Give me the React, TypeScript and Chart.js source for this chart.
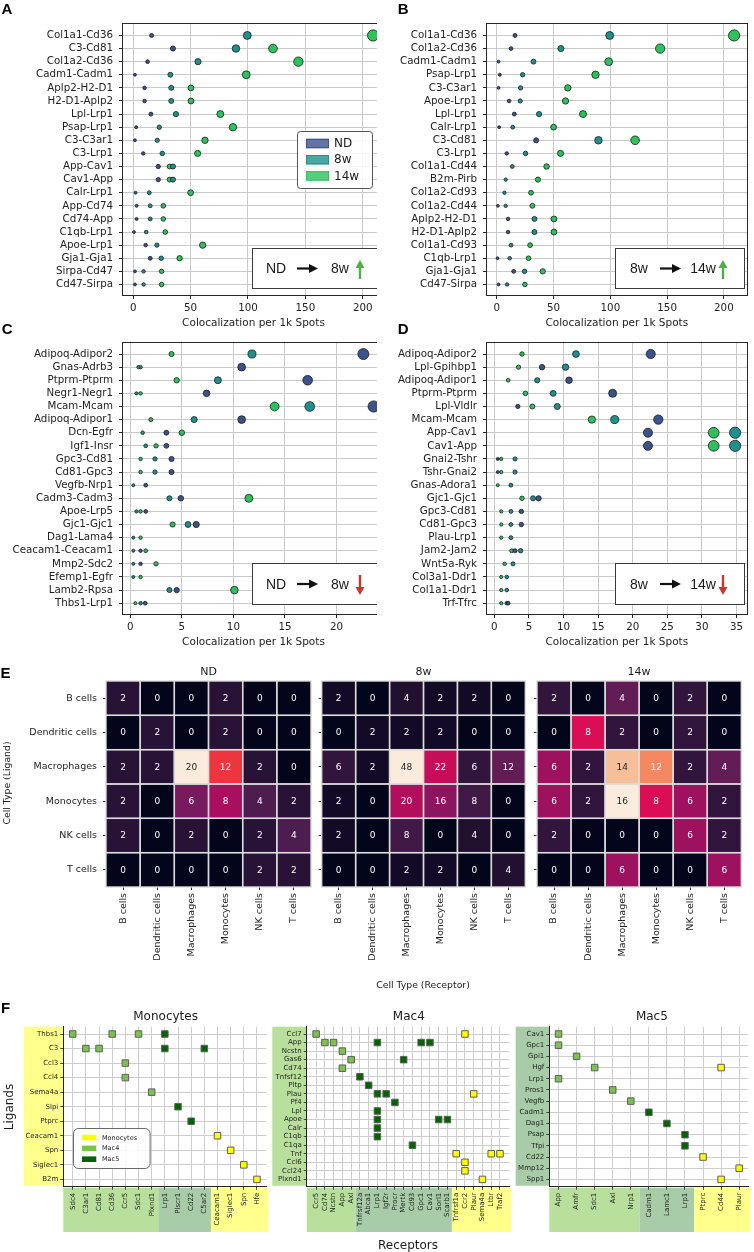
import React, { useEffect, useRef } from 'react';
import { Chart, registerables } from 'chart.js';

Chart.register(...registerables);

const FONT = "'DejaVu Sans', 'Liberation Sans', sans-serif";
const SANS = "'Liberation Sans', Arial, sans-serif";

const COL_ND = '#3b528b';
const COL_8W = '#1f918c';
const COL_14W = '#2cc25c';

// ---------------- Panel A (ND -> 8w up) ----------------
const aPairs = ['Col1a1-Cd36', 'C3-Cd81', 'Col1a2-Cd36', 'Cadm1-Cadm1', 'Aplp2-H2-D1', 'H2-D1-Aplp2', 'Lpl-Lrp1', 'Psap-Lrp1', 'C3-C3ar1', 'C3-Lrp1', 'App-Cav1', 'Cav1-App', 'Calr-Lrp1', 'App-Cd74', 'Cd74-App', 'C1qb-Lrp1', 'Apoe-Lrp1', 'Gja1-Gja1', 'Sirpa-Cd47', 'Cd47-Sirpa'];
const aND = [16, 34.6, 12.5, 1.5, 9.9, 9.9, 15.4, 2.6, 1.5, 8.7, 21.8, 21.8, 2.0, 2.9, 2.9, 0.6, 10.8, 14.8, 1.5, 1.5];
const a8w = [99.4, 89.5, 56.4, 32.3, 33.1, 33.1, 37.2, 22.7, 20.9, 25.3, 34.6, 34.6, 14.0, 14.8, 14.8, 11.3, 20.6, 24.4, 9.0, 9.0];
const a14w = [209, 121.8, 143.9, 98.5, 50.3, 50.3, 75.9, 86.9, 62.5, 56.1, 31.7, 31.7, 50, 26.2, 26.2, 27.9, 60.5, 40.4, 24.7, 24.7];

// ---------------- Panel B (8w -> 14w up) ----------------
const bPairs = ['Col1a1-Cd36', 'Col1a2-Cd36', 'Cadm1-Cadm1', 'Psap-Lrp1', 'C3-C3ar1', 'Apoe-Lrp1', 'Lpl-Lrp1', 'Calr-Lrp1', 'C3-Cd81', 'C3-Lrp1', 'Col1a1-Cd44', 'B2m-Pirb', 'Col1a2-Cd93', 'Col1a2-Cd44', 'Aplp2-H2-D1', 'H2-D1-Aplp2', 'Col1a1-Cd93', 'C1qb-Lrp1', 'Gja1-Gja1', 'Cd47-Sirpa'];
const bND = [16, 12.5, 1.5, 2.6, 1.5, 10.8, 15.4, 2.0, 34.6, 8.7, null, null, null, 0.9, 9.9, 9.9, null, 0.6, 14.8, 1.5];
const b8w = [99.4, 56.4, 32.3, 22.7, 20.9, 20.6, 37.2, 14.0, 89.5, 25.3, 13.6, 7.8, 6.7, 7.8, 33.1, 33.1, 12.5, 11.3, 24.4, 9.0];
const b14w = [209, 143.9, 98.5, 86.9, 62.5, 60.5, 75.9, 50, 121.8, 56.1, 43.8, 36.2, 30.1, 31.3, 50.3, 50.3, 29.3, 27.9, 40.4, 24.7];

// ---------------- Panel C (ND -> 8w down) ----------------
const cPairs = ['Adipoq-Adipor2', 'Gnas-Adrb3', 'Ptprm-Ptprm', 'Negr1-Negr1', 'Mcam-Mcam', 'Adipoq-Adipor1', 'Dcn-Egfr', 'Igf1-Insr', 'Gpc3-Cd81', 'Cd81-Gpc3', 'Vegfb-Nrp1', 'Cadm3-Cadm3', 'Apoe-Lrp5', 'Gjc1-Gjc1', 'Dag1-Lama4', 'Ceacam1-Ceacam1', 'Mmp2-Sdc2', 'Efemp1-Egfr', 'Lamb2-Rpsa', 'Thbs1-Lrp1'];
const cND = [22.6, 10.8, 17.2, 7.4, 23.6, 10.8, 3.5, 3.5, 4.0, 4.0, 1.5, 4.9, 1.5, 6.4, null, 1.0, 1.0, null, 4.5, 1.45];
const c8w = [11.8, 0.8, 8.5, 0.6, 17.4, 6.2, 1.2, 1.5, 2.4, 2.4, 0.3, 3.8, 0.6, 5.6, 0.3, 0.3, 0.3, 0.3, 3.8, 1.0];
const c14w = [4.0, 1.0, 4.5, 1.0, 14.0, 2.0, 5.0, 2.5, 1.0, 1.0, null, 11.5, 1.0, 4.1, 1.0, 1.5, 2.5, 1.0, 10.1, 0.5];

// ---------------- Panel D (8w -> 14w down) ----------------
const dPairs = ['Adipoq-Adipor2', 'Lpl-Gpihbp1', 'Adipoq-Adipor1', 'Ptprm-Ptprm', 'Lpl-Vldlr', 'Mcam-Mcam', 'App-Cav1', 'Cav1-App', 'Gnai2-Tshr', 'Tshr-Gnai2', 'Gnas-Adora1', 'Gjc1-Gjc1', 'Gpc3-Cd81', 'Cd81-Gpc3', 'Plau-Lrp1', 'Jam2-Jam2', 'Wnt5a-Ryk', 'Col3a1-Ddr1', 'Col1a1-Ddr1', 'Trf-Tfrc'];
const dND = [22.6, 6.9, 10.8, 17.1, 3.4, 23.7, 22.2, 22.2, 0.5, 0.5, null, 6.4, 3.9, 3.9, null, 3.0, null, null, null, 2.0];
const d8w = [11.8, 10.3, 6.2, 8.5, 9.1, 17.4, 34.8, 34.8, 3.0, 3.0, 2.4, 5.6, 2.4, 2.4, 2.4, 3.8, 2.7, 1.8, 1.8, 1.8];
const d14w = [4.0, 3.5, 2.0, 4.5, 5.5, 14.1, 31.7, 31.7, 1.0, 1.0, 0.5, 4.0, 1.0, 1.0, 1.0, 2.5, 1.5, 1.0, 1.0, 1.0];

// ---------------- Panel E (heatmaps) ----------------
const cellTypes = ['B cells', 'Dendritic cells', 'Macrophages', 'Monocytes', 'NK cells', 'T cells'];
const heatND = [[2, 0, 0, 2, 0, 0], [0, 2, 0, 2, 0, 0], [2, 2, 20, 12, 2, 0], [2, 0, 6, 8, 4, 2], [2, 0, 2, 0, 2, 4], [0, 0, 0, 0, 2, 2]];
const heat8w = [[2, 0, 4, 2, 2, 0], [0, 2, 2, 2, 0, 0], [6, 2, 48, 22, 6, 12], [2, 0, 20, 16, 8, 0], [2, 0, 8, 0, 4, 0], [0, 0, 2, 2, 0, 4]];
const heat14w = [[2, 0, 4, 0, 2, 0], [0, 8, 2, 0, 2, 0], [6, 2, 14, 12, 2, 4], [6, 2, 16, 8, 6, 2], [2, 0, 0, 0, 6, 2], [0, 0, 6, 0, 0, 6]];

// ---------------- Panel F (ligand-receptor matrices) ----------------
const monoLigands = ['Thbs1', 'C3', 'Ccl3', 'Ccl4', 'Sema4a', 'Slpi', 'Ptprc', 'Ceacam1', 'Spn', 'Siglec1', 'B2m'];
const monoReceptors = ['Sdc4', 'C3ar1', 'Cd81', 'Cd36', 'Ccr5', 'Sdc1', 'Plxnd1', 'Lrp1', 'Plscr1', 'Cd22', 'C5ar2', 'Ceacam1', 'Siglec1', 'Spn', 'Hfe'];
const monoReceptorTypes = ['Mac4', 'Mac4', 'Mac4', 'Mac4', 'Mac4', 'Mac4', 'Mac4', 'Mac5', 'Mac5', 'Mac5', 'Mac5', 'Monocytes', 'Monocytes', 'Monocytes', 'Monocytes'];
const monoPairs = [['Thbs1', 'Sdc4'], ['Thbs1', 'Cd36'], ['Thbs1', 'Sdc1'], ['Thbs1', 'Lrp1'], ['C3', 'C3ar1'], ['C3', 'Cd81'], ['C3', 'Lrp1'], ['C3', 'C5ar2'], ['Ccl3', 'Ccr5'], ['Ccl4', 'Ccr5'], ['Sema4a', 'Plxnd1'], ['Slpi', 'Plscr1'], ['Ptprc', 'Cd22'], ['Ceacam1', 'Ceacam1'], ['Spn', 'Siglec1'], ['Siglec1', 'Spn'], ['B2m', 'Hfe']];

const mac4Ligands = ['Ccl7', 'App', 'Ncstn', 'Gas6', 'Cd74', 'Tnfsf12', 'Pltp', 'Plau', 'Pf4', 'Lpl', 'Apoe', 'Calr', 'C1qb', 'C1qa', 'Tnf', 'Ccl6', 'Ccl24', 'Plxnd1'];
const mac4Receptors = ['Ccr5', 'Cd74', 'Ncstn', 'App', 'Axl', 'Tnfrsf12a', 'Abca1', 'Lrp1', 'Igf2r', 'Procr', 'Mertk', 'Cd93', 'Gpc1', 'Cav1', 'Sorl1', 'Scarb1', 'Tnfrsf1a', 'Ccr2', 'Plaur', 'Sema4a', 'Ltbr', 'Traf2'];
const mac4ReceptorTypes = ['Mac4', 'Mac4', 'Mac4', 'Mac4', 'Mac4', 'Mac5', 'Mac5', 'Mac5', 'Mac5', 'Mac5', 'Mac5', 'Mac5', 'Mac5', 'Mac5', 'Mac5', 'Mac5', 'Monocytes', 'Monocytes', 'Monocytes', 'Monocytes', 'Monocytes', 'Monocytes'];
const mac4Pairs = [['Ccl7', 'Ccr5'], ['Ccl7', 'Ccr2'], ['App', 'Cd74'], ['App', 'Ncstn'], ['App', 'Lrp1'], ['App', 'Gpc1'], ['App', 'Cav1'], ['Ncstn', 'App'], ['Gas6', 'Axl'], ['Gas6', 'Mertk'], ['Cd74', 'App'], ['Tnfsf12', 'Tnfrsf12a'], ['Pltp', 'Abca1'], ['Plau', 'Lrp1'], ['Plau', 'Igf2r'], ['Plau', 'Plaur'], ['Pf4', 'Procr'], ['Lpl', 'Lrp1'], ['Apoe', 'Lrp1'], ['Apoe', 'Sorl1'], ['Apoe', 'Scarb1'], ['Calr', 'Lrp1'], ['C1qb', 'Lrp1'], ['C1qa', 'Cd93'], ['Tnf', 'Tnfrsf1a'], ['Tnf', 'Ltbr'], ['Tnf', 'Traf2'], ['Ccl6', 'Ccr2'], ['Ccl24', 'Ccr2'], ['Plxnd1', 'Sema4a']];

const mac5Ligands = ['Cav1', 'Gpc1', 'Gpi1', 'Hgf', 'Lrp1', 'Pros1', 'Vegfb', 'Cadm1', 'Dag1', 'Psap', 'Tfpi', 'Cd22', 'Mmp12', 'Spp1'];
const mac5Receptors = ['App', 'Amfr', 'Sdc1', 'Axl', 'Nrp1', 'Cadm1', 'Lamc1', 'Lrp1', 'Ptprc', 'Cd44', 'Plaur'];
const mac5ReceptorTypes = ['Mac4', 'Mac4', 'Mac4', 'Mac4', 'Mac4', 'Mac5', 'Mac5', 'Mac5', 'Monocytes', 'Monocytes', 'Monocytes'];
const mac5Pairs = [['Cav1', 'App'], ['Gpc1', 'App'], ['Gpi1', 'Amfr'], ['Hgf', 'Sdc1'], ['Hgf', 'Cd44'], ['Lrp1', 'App'], ['Pros1', 'Axl'], ['Vegfb', 'Nrp1'], ['Cadm1', 'Cadm1'], ['Dag1', 'Lamc1'], ['Psap', 'Lrp1'], ['Tfpi', 'Lrp1'], ['Cd22', 'Ptprc'], ['Mmp12', 'Plaur'], ['Spp1', 'Cd44']];

const groupNames = ['Monocytes', 'Mac4', 'Mac5'];
const MARK: any = { Monocytes: '#ffff00', Mac4: '#7cc24e', Mac5: '#006400' };
const BAND: any = { Monocytes: '#ffff8c', Mac4: '#b8e09c', Mac5: '#a7cca7' };

// ---------------- helpers ----------------
function hArrow(ctx: any, x0: number, x1: number, y: number) {
  const hl = 9, hw = 4.5, sw = 1.1;
  ctx.fillStyle = '#111';
  ctx.fillRect(x0, y - sw, x1 - x0 - hl + 1, sw * 2);
  ctx.beginPath();
  ctx.moveTo(x1, y);
  ctx.lineTo(x1 - hl, y - hw);
  ctx.lineTo(x1 - hl, y + hw);
  ctx.closePath();
  ctx.fill();
}

function vArrow(ctx: any, x: number, yTop: number, yBot: number, up: boolean, color: string) {
  const hl = 8, hw = 4.5, sw = 1.2;
  ctx.fillStyle = color;
  ctx.beginPath();
  if (up) {
    ctx.fillRect(x - sw, yTop + hl - 1, sw * 2, yBot - yTop - hl + 1);
    ctx.moveTo(x, yTop);
    ctx.lineTo(x - hw, yTop + hl);
    ctx.lineTo(x + hw, yTop + hl);
  } else {
    ctx.fillRect(x - sw, yTop, sw * 2, yBot - yTop - hl + 1);
    ctx.moveTo(x, yBot);
    ctx.lineTo(x - hw, yBot - hl);
    ctx.lineTo(x + hw, yBot - hl);
  }
  ctx.closePath();
  ctx.fill();
}

function withAlpha(hex: string, a: number) {
  const n = parseInt(hex.slice(1), 16);
  return `rgba(${(n >> 16) & 255},${(n >> 8) & 255},${n & 255},${a})`;
}

function dotDecor(p: any) {
  return {
    id: 'dotDecor',
    afterDraw(chart: any) {
      const { ctx, chartArea: a } = chart;
      ctx.save();
      ctx.lineWidth = 1;
      ctx.strokeStyle = '#262626';
      const L = Math.round(a.left), T = Math.round(a.top), R = Math.round(a.right), B = Math.round(a.bottom);
      ctx.strokeRect(L + 0.5, T + 0.5, R - L - 1, B - T - 1);

      // annotation box
      const bw = 130, bh = p.boxH;
      const bx = Math.round(a.right - 3 - bw), by = Math.round(a.bottom - p.boxBottom - bh);
      ctx.fillStyle = '#fff';
      ctx.fillRect(bx, by, bw, bh);
      ctx.strokeStyle = '#3a3a3a';
      ctx.strokeRect(bx + 0.5, by + 0.5, bw - 1, bh - 1);
      const cy = by + bh / 2 + 1;
      ctx.fillStyle = '#1a1a1a';
      ctx.font = `14px ${SANS}`;
      ctx.textAlign = 'center';
      ctx.textBaseline = 'middle';
      ctx.fillText(p.note[0], bx + 24, cy);
      ctx.fillText(p.note[1], bx + 88, cy);
      hArrow(ctx, bx + 45, bx + 66, cy - 1);
      const up = p.note[2] === 'up';
      vArrow(ctx, bx + 108, by + 12, by + bh - 10, up, up ? '#4fae47' : '#d0352b');

      if (p.legend) {
        const lw = 75, lh = 57;
        const lx = Math.round(a.right - 13 - lw), ly = Math.round(a.top + 108);
        ctx.beginPath();
        ctx.roundRect(lx + 0.5, ly + 0.5, lw, lh, 3);
        ctx.fillStyle = 'rgba(255,255,255,0.85)';
        ctx.fill();
        ctx.strokeStyle = '#555';
        ctx.stroke();
        const items = [['ND', COL_ND], ['8w', COL_8W], ['14w', COL_14W]];
        items.forEach(([t, c], i) => {
          const ey = ly + 12.5 + i * 16.2;
          ctx.fillStyle = withAlpha(c, 0.8);
          ctx.fillRect(lx + 9, ey - 4.7, 23, 9.4);
          ctx.strokeStyle = c;
          ctx.strokeRect(lx + 9.5, ey - 4.2, 22, 8.4);
          ctx.fillStyle = '#1a1a1a';
          ctx.font = `12px ${FONT}`;
          ctx.textAlign = 'left';
          ctx.textBaseline = 'middle';
          ctx.fillText(t, lx + 37, ey + 0.5);
        });
      }
      ctx.restore();
    },
  };
}

function dotConfig(p: any) {
  const all = [...p.nd, ...p.w8, ...p.w14].filter((v: any) => v != null) as number[];
  const vmax = Math.max(...all);
  const toPts = (arr: any[]) => arr.map((v, i) => (v == null ? null : { x: v, y: i })).filter(Boolean);
  const rad = (ctx: any) => {
    const r = ctx.raw;
    return r ? Math.sqrt(3.2 + 32.8 * r.x / vmax) - 0.4 : 0;
  };
  const ds = (label: string, arr: any[], color: string) => ({
    label,
    data: toPts(arr),
    backgroundColor: color,
    borderColor: '#1a1a1a',
    borderWidth: 0.8,
    pointRadius: rad,
    pointHoverRadius: rad,
  });
  const tickFont = { family: FONT, size: 10.3 };
  const grid = { color: '#c9c9c9', lineWidth: 1, tickLength: 3, tickColor: '#262626', drawTicks: true };
  return {
    type: 'scatter',
    data: { datasets: [ds('ND', p.nd, COL_ND), ds('8w', p.w8, COL_8W), ds('14w', p.w14, COL_14W)] },
    options: {
      responsive: false,
      animation: false,
      devicePixelRatio: 1,
      events: [],
      layout: { padding: { left: 0, top: p.padTop, right: p.padRight, bottom: 0 } },
      plugins: { legend: { display: false }, tooltip: { enabled: false } },
      scales: {
        x: {
          type: 'linear',
          min: p.xMin,
          max: p.xMax,
          afterBuildTicks: (s: any) => { s.ticks = p.xTicks.map((v: number) => ({ value: v })); },
          afterFit: (s: any) => { s.height = 36; },
          ticks: { font: tickFont, color: '#222', padding: 3, maxRotation: 0, autoSkip: false },
          grid,
          border: { display: false },
          title: { display: true, text: 'Colocalization per 1k Spots', font: { family: FONT, size: 10.5 }, color: '#222', padding: { top: 0, bottom: 2 } },
        },
        y: {
          type: 'linear',
          reverse: true,
          min: p.yMin,
          max: p.yMax,
          afterBuildTicks: (s: any) => { s.ticks = p.labels.map((_: any, i: number) => ({ value: i })); },
          afterFit: (s: any) => { s.width = p.yW; },
          ticks: { callback: (_v: any, i: number) => p.labels[i], font: tickFont, color: '#222', padding: 6, autoSkip: false },
          grid,
          border: { display: false },
        },
      },
    },
    plugins: [dotDecor(p)],
  };
}

const ROCKET = [[3, 5, 26], [40, 18, 54], [76, 29, 78], [120, 26, 94], [170, 14, 94], [218, 14, 84], [238, 52, 62], [245, 114, 80], [246, 158, 114], [247, 200, 167], [250, 235, 221]];
function rocket(t: number) {
  const f = Math.max(0, Math.min(1, t)) * 10;
  const i = Math.min(9, Math.floor(f));
  const u = f - i;
  return ROCKET[i].map((c, k) => Math.round(c + (ROCKET[i + 1][k] - c) * u));
}
function lum(c: number[]) {
  const l = c.map((v) => { const s = v / 255; return s <= 0.03928 ? s / 12.92 : Math.pow((s + 0.055) / 1.055, 2.4); });
  return 0.2126 * l[0] + 0.7152 * l[1] + 0.0722 * l[2];
}

function heatConfig(vals: number[][], o: any) {
  const pts: any[] = [];
  vals.forEach((row, r) => row.forEach((v, c) => pts.push({ x: c + 0.5, y: r + 0.5, v })));
  const vmax = Math.max(...pts.map((p) => p.v));
  const tickFont = { family: FONT, size: 9.5 };
  const grid = { drawOnChartArea: false, drawTicks: true, tickLength: 3, tickColor: '#262626', color: '#262626' };
  return {
    type: 'scatter',
    data: { datasets: [{ data: pts, pointRadius: 0, pointHoverRadius: 0 }] },
    options: {
      responsive: false,
      animation: false,
      devicePixelRatio: 1,
      events: [],
      layout: { padding: { left: 0, top: 21, right: o.padR, bottom: 0 } },
      plugins: { legend: { display: false }, tooltip: { enabled: false } },
      scales: {
        x: {
          type: 'linear', min: 0, max: 6,
          afterBuildTicks: (s: any) => { s.ticks = cellTypes.map((_, i) => ({ value: i + 0.5 })); },
          afterFit: (s: any) => { s.height = 80; },
          ticks: { callback: (_v: any, i: number) => cellTypes[i], minRotation: 90, maxRotation: 90, autoSkip: false, font: tickFont, color: '#222', padding: 3 },
          grid,
          border: { display: false },
        },
        y: {
          type: 'linear', reverse: true, min: 0, max: 6,
          afterBuildTicks: (s: any) => { s.ticks = cellTypes.map((_, i) => ({ value: i + 0.5 })); },
          afterFit: (s: any) => { s.width = o.yW; },
          ticks: { display: o.showY, callback: (_v: any, i: number) => cellTypes[i], autoSkip: false, font: tickFont, color: '#222', padding: 6 },
          grid,
          border: { display: false },
        },
      },
    },
    plugins: [{
      id: 'heatCells',
      beforeDatasetsDraw(chart: any) {
        const { ctx } = chart;
        const xs = chart.scales.x, ys = chart.scales.y;
        const data = chart.data.datasets[0].data;
        ctx.save();
        const rects = data.map((p: any) => {
          const x0 = xs.getPixelForValue(p.x - 0.5), x1 = xs.getPixelForValue(p.x + 0.5);
          const ya = ys.getPixelForValue(p.y - 0.5), yb = ys.getPixelForValue(p.y + 0.5);
          return { x0, x1, y0: Math.min(ya, yb), y1: Math.max(ya, yb), p };
        });
        rects.forEach((r: any) => {
          const c = rocket(r.p.v / vmax);
          ctx.fillStyle = `rgb(${c[0]},${c[1]},${c[2]})`;
          ctx.fillRect(r.x0, r.y0, r.x1 - r.x0, r.y1 - r.y0);
        });
        ctx.strokeStyle = '#dcdcdc';
        ctx.lineWidth = 1.4;
        rects.forEach((r: any) => ctx.strokeRect(r.x0, r.y0, r.x1 - r.x0, r.y1 - r.y0));
        ctx.font = `9px ${FONT}`;
        ctx.textAlign = 'center';
        ctx.textBaseline = 'middle';
        rects.forEach((r: any) => {
          const c = rocket(r.p.v / vmax);
          ctx.fillStyle = lum(c) > 0.408 ? '#262626' : '#ffffff';
          ctx.fillText(String(r.p.v), (r.x0 + r.x1) / 2, (r.y0 + r.y1) / 2 + 0.5);
        });
        ctx.restore();
      },
    }],
  };
}

function fConfig(s: any) {
  const W = s.canvasW - s.padR - s.yW;
  const H = 160, PX = 9.5, PY = 7.3;
  const nx = s.receptors.length, ny = s.ligands.length;
  const sx = (W - 2 * PX) / (nx - 1), sy = (H - 2 * PY) / (ny - 1);
  const datasets = groupNames.map((g) => ({
    label: g,
    data: s.pairs
      .filter((pr: string[]) => s.receptorTypes[s.receptors.indexOf(pr[1])] === g)
      .map((pr: string[]) => ({ x: s.receptors.indexOf(pr[1]), y: s.ligands.indexOf(pr[0]) })),
    pointStyle: 'rect',
    pointRadius: 4.6,
    pointHoverRadius: 4.6,
    backgroundColor: MARK[g],
    borderColor: '#5e5e5e',
    borderWidth: 1,
  }));
  const tickFont = { family: FONT, size: 7 };
  const grid = { color: '#cdcdcd', lineWidth: 1, tickLength: 3, tickColor: '#444', drawTicks: true };
  return {
    type: 'scatter',
    data: { datasets },
    options: {
      responsive: false,
      animation: false,
      devicePixelRatio: 1,
      events: [],
      layout: { padding: { left: 0, top: 26.7, right: s.padR, bottom: 0 } },
      plugins: { legend: { display: false }, tooltip: { enabled: false } },
      scales: {
        x: {
          type: 'linear', min: -PX / sx, max: nx - 1 + PX / sx,
          afterBuildTicks: (sc: any) => { sc.ticks = s.receptors.map((_: any, i: number) => ({ value: i })); },
          afterFit: (sc: any) => { sc.height = 45.3; },
          ticks: { callback: (_v: any, i: number) => s.receptors[i], minRotation: 90, maxRotation: 90, autoSkip: false, font: tickFont, color: '#222', padding: 3 },
          grid,
          border: { display: true, color: '#222', width: 1 },
        },
        y: {
          type: 'linear', reverse: true, min: -PY / sy, max: ny - 1 + PY / sy,
          afterBuildTicks: (sc: any) => { sc.ticks = s.ligands.map((_: any, i: number) => ({ value: i })); },
          afterFit: (sc: any) => { sc.width = s.yW; },
          ticks: { callback: (_v: any, i: number) => s.ligands[i], autoSkip: false, font: tickFont, color: '#222', padding: 2 },
          grid,
          border: { display: true, color: '#222', width: 1 },
        },
      },
    },
    plugins: [{
      id: 'fBands',
      beforeDraw(chart: any) {
        const { ctx, chartArea: a } = chart;
        const xs = chart.scales.x;
        ctx.save();
        ctx.fillStyle = BAND[s.ligandType];
        ctx.fillRect(a.left - s.bandW, a.top, s.bandW, a.bottom - a.top - 1);
        groupNames.forEach((g) => {
          const idx = s.receptorTypes.map((t: string, i: number) => (t === g ? i : -1)).filter((i: number) => i >= 0);
          if (!idx.length) return;
          const first = idx[0], last = idx[idx.length - 1];
          const x0 = first === 0 ? a.left : xs.getPixelForValue(first - 0.5);
          const x1 = last === s.receptors.length - 1 ? a.right + 2 : xs.getPixelForValue(last + 0.5);
          ctx.fillStyle = BAND[g];
          ctx.fillRect(x0, a.bottom + 1, x1 - x0, 44.5);
        });
        ctx.restore();
      },
      afterDraw(chart: any) {
        if (!s.legend) return;
        const { ctx, chartArea: a } = chart;
        ctx.save();
        const lx = Math.round(a.left + 9.4), ly = Math.round(a.top + 101), lw = 76.6, lh = 40;
        ctx.beginPath();
        ctx.roundRect(lx + 0.5, ly + 0.5, lw, lh, 5);
        ctx.fillStyle = 'rgba(255,255,255,0.9)';
        ctx.fill();
        ctx.strokeStyle = '#444';
        ctx.lineWidth = 0.8;
        ctx.stroke();
        groupNames.forEach((g, i) => {
          const ey = ly + 9.6 + i * 10.8;
          ctx.fillStyle = MARK[g];
          ctx.fillRect(lx + 9, ey - 2.8, 14.3, 5.6);
          ctx.fillStyle = '#1a1a1a';
          ctx.font = `6.5px ${FONT}`;
          ctx.textAlign = 'left';
          ctx.textBaseline = 'middle';
          ctx.fillText(g, lx + 29, ey + 0.3);
        });
        ctx.restore();
      },
    }],
  };
}

// ---------------- panel specs (layout) ----------------
const panelA = { labels: aPairs, nd: aND, w8: a8w, w14: a14w, xMin: -9.8, xMax: 219.4, xTicks: [0, 50, 100, 150, 200], yMin: -0.95, yMax: 19.88, padTop: 23, padRight: 15, yW: 122, note: ['ND', '8w', 'up'], legend: true, boxH: 41, boxBottom: 7 };
const panelB = { labels: bPairs, nd: bND, w8: b8w, w14: b14w, xMin: -9.56, xMax: 220.9, xTicks: [0, 50, 100, 150, 200], yMin: -0.95, yMax: 19.88, padTop: 23, padRight: 3, yW: 109, note: ['8w', '14w', 'up'], legend: false, boxH: 41, boxBottom: 7 };
const panelC = { labels: cPairs, nd: cND, w8: c8w, w14: c14w, xMin: -0.8, xMax: 24.7, xTicks: [0, 5, 10, 15, 20], yMin: -0.94, yMax: 19.9, padTop: 41.7, padRight: 15, yW: 122, note: ['ND', '8w', 'down'], legend: false, boxH: 42, boxBottom: 10 };
const panelD = { labels: dPairs, nd: dND, w8: d8w, w14: d14w, xMin: -1.2, xMax: 36.6, xTicks: [0, 5, 10, 15, 20, 25, 30, 35], yMin: -0.94, yMax: 19.9, padTop: 41.7, padRight: 3, yW: 109, note: ['8w', '14w', 'down'], legend: false, boxH: 42, boxBottom: 10 };

const fMono = { ligands: monoLigands, receptors: monoReceptors, receptorTypes: monoReceptorTypes, pairs: monoPairs, ligandType: 'Monocytes', canvasW: 272, padR: 4, yW: 63.3, bandW: 39.3, legend: true };
const fMac4 = { ligands: mac4Ligands, receptors: mac4Receptors, receptorTypes: mac4ReceptorTypes, pairs: mac4Pairs, ligandType: 'Mac4', canvasW: 245, padR: 4, yW: 36.7, bandW: 34.4, legend: false };
const fMac5 = { ligands: mac5Ligands, receptors: mac5Receptors, receptorTypes: mac5ReceptorTypes, pairs: mac5Pairs, ligandType: 'Mac5', canvasW: 239, padR: 0, yW: 34.3, bandW: 33.6, legend: false };

function ChartBox({ x, y, w, h, clipW, make }: { x: number; y: number; w: number; h: number; clipW?: number; make: () => any }) {
  const ref = useRef<HTMLCanvasElement>(null);
  useEffect(() => {
    const chart = new Chart(ref.current as HTMLCanvasElement, make());
    return () => chart.destroy();
  }, []);
  return (
    <div style={{ position: 'absolute', left: x, top: y, width: clipW ?? w, height: h, overflow: 'hidden' }}>
      <canvas ref={ref} width={w} height={h} style={{ width: w, height: h, display: 'block' }} />
    </div>
  );
}

function Label({ x, y, text, size, rotate = 0 }: { x: number; y: number; text: string; size: number; rotate?: number }) {
  return (
    <div style={{ position: 'absolute', left: x, top: y, transform: `translate(-50%, -50%) rotate(${rotate}deg)`, fontFamily: FONT, fontSize: size, lineHeight: `${size}px`, whiteSpace: 'nowrap', color: '#1a1a1a' }}>
      {text}
    </div>
  );
}

function Letter({ x, y, text }: { x: number; y: number; text: string }) {
  return (
    <div style={{ position: 'absolute', left: x, top: y - 2, fontFamily: SANS, fontWeight: 'bold', fontSize: 15, lineHeight: '15px', color: '#000' }}>
      {text}
    </div>
  );
}

export default function App() {
  return (
    <div style={{ position: 'absolute', left: 0, top: 0, width: 754, height: 1252, background: '#fff', overflow: 'hidden' }}>
      <ChartBox x={0} y={0} w={400} h={332} clipW={377} make={() => dotConfig(panelA)} />
      <ChartBox x={377} y={0} w={377} h={332} make={() => dotConfig(panelB)} />
      <ChartBox x={0} y={300} w={400} h={351} clipW={377} make={() => dotConfig(panelC)} />
      <ChartBox x={377} y={300} w={377} h={351} make={() => dotConfig(panelD)} />

      <ChartBox x={0} y={660} w={316} h={307} make={() => heatConfig(heatND, { showY: true, yW: 106, padR: 5 })} />
      <ChartBox x={316} y={660} w={212} h={307} make={() => heatConfig(heat8w, { showY: false, yW: 5.7, padR: 2.7 })} />
      <ChartBox x={528} y={660} w={226} h={307} make={() => heatConfig(heat14w, { showY: false, yW: 9, padR: 12.7 })} />

      <ChartBox x={0} y={1000} w={272} h={232} make={() => fConfig(fMono)} />
      <ChartBox x={270} y={1000} w={245} h={232} make={() => fConfig(fMac4)} />
      <ChartBox x={515} y={1000} w={239} h={232} make={() => fConfig(fMac5)} />

      <Letter x={1.5} y={3.3} text="A" />
      <Letter x={397.7} y={3.3} text="B" />
      <Letter x={1.7} y={323.3} text="C" />
      <Letter x={397.7} y={323.3} text="D" />
      <Letter x={0.5} y={666.7} text="E" />
      <Letter x={1} y={1001.7} text="F" />

      <Label x={208.5} y={670.7} text="ND" size={11} />
      <Label x={423.5} y={670.7} text="8w" size={11} />
      <Label x={639} y={670.7} text="14w" size={11} />
      <Label x={6.5} y={783} text="Cell Type (Ligand)" size={9.3} rotate={-90} />
      <Label x={423} y={985} text="Cell Type (Receptor)" size={9.3} />

      <Label x={165.6} y={1015.7} text="Monocytes" size={12} />
      <Label x={408.8} y={1015.7} text="Mac4" size={12} />
      <Label x={651.9} y={1015.7} text="Mac5" size={12} />
      <Label x={8.5} y={1107} text="Ligands" size={12} rotate={-90} />
      <Label x={408} y={1245} text="Receptors" size={12} />
    </div>
  );
}
